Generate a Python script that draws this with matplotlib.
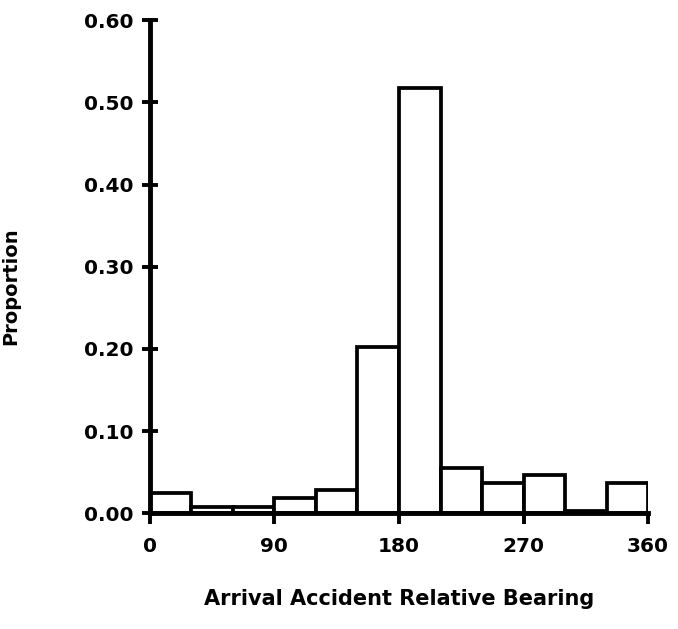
import matplotlib
matplotlib.use("Agg")
import matplotlib.pyplot as plt

bin_edges = [0, 30, 60, 90, 120, 150, 180, 210, 240, 270, 300, 330, 360]
proportions = [0.025, 0.008, 0.008, 0.018, 0.028, 0.202, 0.518, 0.055, 0.037, 0.046, 0.003, 0.037]
x_ticks = [0, 90, 180, 270, 360]
y_ticks = [0.0, 0.1, 0.2, 0.3, 0.4, 0.5, 0.6]
y_tick_labels = ["0.00", "0.10", "0.20", "0.30", "0.40", "0.50", "0.60"]

plt.rcParams['font.family'] = ['DejaVu Sans']
plt.rcParams['font.weight'] = 'bold'

fig = plt.figure(figsize=(6.78, 6.29), dpi=100)
ax = fig.add_axes([0.221, 0.184, 0.735, 0.784])

lefts = bin_edges[:-1]
widths = [b - a for a, b in zip(bin_edges[:-1], bin_edges[1:])]
ax.bar(lefts, proportions, width=widths, align='edge', facecolor='white',
       edgecolor='black', linewidth=2.7, zorder=2)

ax.set_xlim(0, 360)
ax.set_ylim(0, 0.6)
ax.set_xticks(x_ticks)
ax.set_xticklabels([str(t) for t in x_ticks], fontsize=14.5, fontweight='bold')
ax.set_yticks(y_ticks)
ax.set_yticklabels(y_tick_labels, fontsize=14.5, fontweight='bold')

for s in ['top', 'right']:
    ax.spines[s].set_visible(False)
for s in ['left', 'bottom']:
    ax.spines[s].set_linewidth(3.5)
ax.tick_params(axis='y', direction='inout', length=11, width=2.8, pad=6)
ax.tick_params(axis='x', direction='out', length=8, width=2.8, pad=9)

ax.set_ylabel("Proportion", fontsize=14, fontweight='bold')
ax.yaxis.set_label_coords(-0.26, 0.46)
ax.set_xlabel("Arrival Accident Relative Bearing", fontsize=15, fontweight='bold', labelpad=24)

fig.savefig("out.png", dpi=100)
